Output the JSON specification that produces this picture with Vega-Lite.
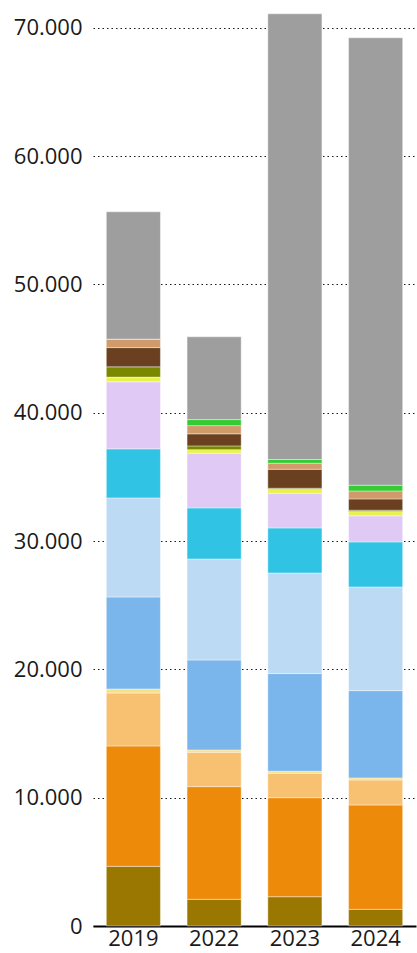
{
  "$schema": "https://vega.github.io/schema/vega-lite/v6.json",
  "autosize": "none",
  "width": 323,
  "height": 924,
  "padding": {"left": 93, "top": 2, "right": 1, "bottom": 27},
  "config": {
    "locale": {"number": {"decimal": ",", "thousands": ".", "grouping": [3], "currency": ["", " €"]}},
    "view": {"stroke": null},
    "font": "Open Sans"
  },
  "datasets": {
    "d": [
      {"year": "2019", "series": "S01", "k": 1, "value": 4650},
      {"year": "2019", "series": "S02", "k": 2, "value": 9380},
      {"year": "2019", "series": "S03", "k": 3, "value": 4130},
      {"year": "2019", "series": "S04", "k": 4, "value": 310},
      {"year": "2019", "series": "S05", "k": 5, "value": 7170},
      {"year": "2019", "series": "S06", "k": 6, "value": 7720},
      {"year": "2019", "series": "S07", "k": 7, "value": 3820},
      {"year": "2019", "series": "S08", "k": 8, "value": 5220},
      {"year": "2019", "series": "S09", "k": 9, "value": 370},
      {"year": "2019", "series": "S10", "k": 10, "value": 800},
      {"year": "2019", "series": "S11", "k": 11, "value": 1500},
      {"year": "2019", "series": "S12", "k": 12, "value": 660},
      {"year": "2019", "series": "S13", "k": 13, "value": 0},
      {"year": "2019", "series": "S14", "k": 14, "value": 9920},
      {"year": "2022", "series": "S01", "k": 1, "value": 2080},
      {"year": "2022", "series": "S02", "k": 2, "value": 8780},
      {"year": "2022", "series": "S03", "k": 3, "value": 2680},
      {"year": "2022", "series": "S04", "k": 4, "value": 180},
      {"year": "2022", "series": "S05", "k": 5, "value": 7010},
      {"year": "2022", "series": "S06", "k": 6, "value": 7870},
      {"year": "2022", "series": "S07", "k": 7, "value": 3980},
      {"year": "2022", "series": "S08", "k": 8, "value": 4260},
      {"year": "2022", "series": "S09", "k": 9, "value": 280},
      {"year": "2022", "series": "S10", "k": 10, "value": 290},
      {"year": "2022", "series": "S11", "k": 11, "value": 940},
      {"year": "2022", "series": "S12", "k": 12, "value": 640},
      {"year": "2022", "series": "S13", "k": 13, "value": 470},
      {"year": "2022", "series": "S14", "k": 14, "value": 6450},
      {"year": "2023", "series": "S01", "k": 1, "value": 2280},
      {"year": "2023", "series": "S02", "k": 2, "value": 7720},
      {"year": "2023", "series": "S03", "k": 3, "value": 1900},
      {"year": "2023", "series": "S04", "k": 4, "value": 160},
      {"year": "2023", "series": "S05", "k": 5, "value": 7610},
      {"year": "2023", "series": "S06", "k": 6, "value": 7840},
      {"year": "2023", "series": "S07", "k": 7, "value": 3510},
      {"year": "2023", "series": "S08", "k": 8, "value": 2700},
      {"year": "2023", "series": "S09", "k": 9, "value": 320},
      {"year": "2023", "series": "S10", "k": 10, "value": 70},
      {"year": "2023", "series": "S11", "k": 11, "value": 1480},
      {"year": "2023", "series": "S12", "k": 12, "value": 470},
      {"year": "2023", "series": "S13", "k": 13, "value": 290},
      {"year": "2023", "series": "S14", "k": 14, "value": 34730},
      {"year": "2024", "series": "S01", "k": 1, "value": 1300},
      {"year": "2024", "series": "S02", "k": 2, "value": 8130},
      {"year": "2024", "series": "S03", "k": 3, "value": 1950},
      {"year": "2024", "series": "S04", "k": 4, "value": 160},
      {"year": "2024", "series": "S05", "k": 5, "value": 6800},
      {"year": "2024", "series": "S06", "k": 6, "value": 8080},
      {"year": "2024", "series": "S07", "k": 7, "value": 3510},
      {"year": "2024", "series": "S08", "k": 8, "value": 2030},
      {"year": "2024", "series": "S09", "k": 9, "value": 330},
      {"year": "2024", "series": "S10", "k": 10, "value": 110},
      {"year": "2024", "series": "S11", "k": 11, "value": 880},
      {"year": "2024", "series": "S12", "k": 12, "value": 620},
      {"year": "2024", "series": "S13", "k": 13, "value": 450},
      {"year": "2024", "series": "S14", "k": 14, "value": 34860}
    ]
  },
  "data": {"name": "d"},
  "mark": {"type": "bar", "stroke": "#ffffff", "strokeWidth": 0.8, "strokeOpacity": 0.5},
  "encoding": {
    "x": {
      "field": "year", "type": "nominal",
      "scale": {"paddingInner": 0.33, "paddingOuter": 0.165},
      "axis": {
        "title": null, "labelAngle": 0, "ticks": false, "domainColor": "#000000", "domainWidth": 2,
        "labelFontSize": 22, "labelFontWeight": "normal", "labelColor": "#1a1a1a", "labelPadding": 2
      }
    },
    "y": {
      "field": "value", "type": "quantitative", "stack": "zero",
      "scale": {"domain": [0, 72000], "nice": false},
      "axis": {
        "title": null, "values": [0, 10000, 20000, 30000, 40000, 50000, 60000, 70000],
        "format": ",d", "domain": false, "ticks": false, "labelPadding": 11,
        "labelFontSize": 22, "labelFontWeight": "normal", "labelColor": "#1a1a1a",
        "gridColor": "#000000", "gridDash": [1.5, 3], "gridWidth": 1.2, "gridOpacity": 0.9
      }
    },
    "color": {
      "field": "series", "type": "nominal", "legend": null,
      "scale": {
        "domain": ["S01", "S02", "S03", "S04", "S05", "S06", "S07", "S08", "S09", "S10", "S11", "S12", "S13", "S14"],
        "range": ["#997700", "#ee8a0a", "#f8c172", "#f7e08a", "#7ab6ec", "#bddaf5", "#30c3e3", "#e0caf5", "#e9f24a", "#7a8800", "#6a4020", "#d09a6a", "#33cc33", "#9e9e9e"]
      }
    },
    "order": {"field": "k", "type": "quantitative", "sort": "ascending"}
  }
}
